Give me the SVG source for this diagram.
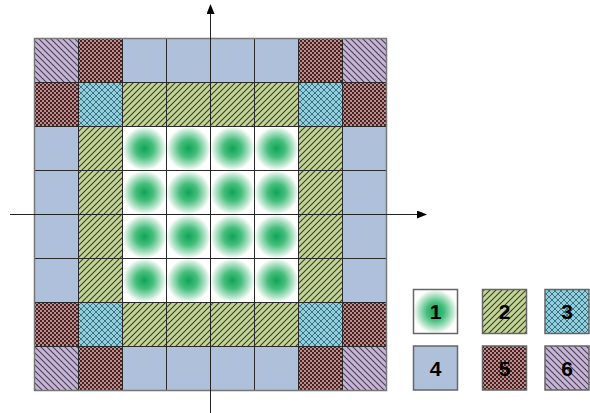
<svg xmlns="http://www.w3.org/2000/svg" width="590" height="413" viewBox="0 0 590 413">
<style>
.c{stroke:#2a2a2a;stroke-width:1}
.lg{stroke:#666;stroke-width:1.5}
.t{font-family:"Liberation Sans",Arial,sans-serif;font-weight:bold;font-size:21px;fill:#000;text-anchor:middle}
.ax{stroke:#222;stroke-width:1;fill:none}
</style>
<defs>
<radialGradient id="g1" cx="0.5" cy="0.5" r="0.5">
<stop offset="0" stop-color="#0fa458"/>
<stop offset="0.4" stop-color="#45be7c"/>
<stop offset="0.8" stop-color="#bfe7d0"/>
<stop offset="1" stop-color="#ffffff"/>
</radialGradient>
<pattern id="p2" patternUnits="userSpaceOnUse" width="6" height="6">
<rect width="6" height="6" fill="#c3d596"/>
<path d="M0,6L6,0M-1,1L1,-1M5,7L7,5" stroke="#3a3a2a" stroke-width="1.1"/>
</pattern>
<pattern id="p6" patternUnits="userSpaceOnUse" width="6" height="6">
<rect width="6" height="6" fill="#c6b5d6"/>
<path d="M0,0L6,6M-1,5L1,7M5,-1L7,1" stroke="#4a3f55" stroke-width="1.1"/>
</pattern>
<pattern id="p3" patternUnits="userSpaceOnUse" width="6" height="6">
<rect width="6" height="6" fill="#8fd0e0"/>
<path d="M0,0L6,6M6,0L0,6" stroke="#3a6470" stroke-width="0.9"/>
</pattern>
<pattern id="p5" patternUnits="userSpaceOnUse" width="4" height="4">
<rect width="4" height="4" fill="#c48a8a"/>
<rect x="0" y="0" width="2" height="2" fill="#3e2626"/>
<rect x="2" y="2" width="2" height="2" fill="#3e2626"/>
</pattern>
<marker id="ar" markerWidth="10" markerHeight="8" refX="9" refY="4" orient="auto" markerUnits="userSpaceOnUse">
<path d="M0,0L10,4L0,8Z" fill="#000"/>
</marker>
</defs>
<g id="grid">
<rect class="c" x="34.5" y="38.5" width="44" height="44" fill="url(#p6)"/>
<rect class="c" x="78.5" y="38.5" width="44" height="44" fill="url(#p5)"/>
<rect class="c" x="122.5" y="38.5" width="44" height="44" fill="#afc1da"/>
<rect class="c" x="166.5" y="38.5" width="44" height="44" fill="#afc1da"/>
<rect class="c" x="210.5" y="38.5" width="44" height="44" fill="#afc1da"/>
<rect class="c" x="254.5" y="38.5" width="44" height="44" fill="#afc1da"/>
<rect class="c" x="298.5" y="38.5" width="44" height="44" fill="url(#p5)"/>
<rect class="c" x="342.5" y="38.5" width="44" height="44" fill="url(#p6)"/>
<rect class="c" x="34.5" y="82.5" width="44" height="44" fill="url(#p5)"/>
<rect class="c" x="78.5" y="82.5" width="44" height="44" fill="url(#p3)"/>
<rect class="c" x="122.5" y="82.5" width="44" height="44" fill="url(#p2)"/>
<rect class="c" x="166.5" y="82.5" width="44" height="44" fill="url(#p2)"/>
<rect class="c" x="210.5" y="82.5" width="44" height="44" fill="url(#p2)"/>
<rect class="c" x="254.5" y="82.5" width="44" height="44" fill="url(#p2)"/>
<rect class="c" x="298.5" y="82.5" width="44" height="44" fill="url(#p3)"/>
<rect class="c" x="342.5" y="82.5" width="44" height="44" fill="url(#p5)"/>
<rect class="c" x="34.5" y="126.5" width="44" height="44" fill="#afc1da"/>
<rect class="c" x="34.5" y="170.5" width="44" height="44" fill="#afc1da"/>
<rect class="c" x="34.5" y="214.5" width="44" height="44" fill="#afc1da"/>
<rect class="c" x="34.5" y="258.5" width="44" height="44" fill="#afc1da"/>
<rect class="c" x="78.5" y="126.5" width="44" height="44" fill="url(#p2)"/>
<rect class="c" x="78.5" y="170.5" width="44" height="44" fill="url(#p2)"/>
<rect class="c" x="78.5" y="214.5" width="44" height="44" fill="url(#p2)"/>
<rect class="c" x="78.5" y="258.5" width="44" height="44" fill="url(#p2)"/>
<rect class="c" x="298.5" y="126.5" width="44" height="44" fill="url(#p2)"/>
<rect class="c" x="298.5" y="170.5" width="44" height="44" fill="url(#p2)"/>
<rect class="c" x="298.5" y="214.5" width="44" height="44" fill="url(#p2)"/>
<rect class="c" x="298.5" y="258.5" width="44" height="44" fill="url(#p2)"/>
<rect class="c" x="342.5" y="126.5" width="44" height="44" fill="#afc1da"/>
<rect class="c" x="342.5" y="170.5" width="44" height="44" fill="#afc1da"/>
<rect class="c" x="342.5" y="214.5" width="44" height="44" fill="#afc1da"/>
<rect class="c" x="342.5" y="258.5" width="44" height="44" fill="#afc1da"/>
<rect class="c" x="122.5" y="126.5" width="44" height="44" fill="url(#g1)"/>
<rect class="c" x="166.5" y="126.5" width="44" height="44" fill="url(#g1)"/>
<rect class="c" x="210.5" y="126.5" width="44" height="44" fill="url(#g1)"/>
<rect class="c" x="254.5" y="126.5" width="44" height="44" fill="url(#g1)"/>
<rect class="c" x="122.5" y="170.5" width="44" height="44" fill="url(#g1)"/>
<rect class="c" x="166.5" y="170.5" width="44" height="44" fill="url(#g1)"/>
<rect class="c" x="210.5" y="170.5" width="44" height="44" fill="url(#g1)"/>
<rect class="c" x="254.5" y="170.5" width="44" height="44" fill="url(#g1)"/>
<rect class="c" x="122.5" y="214.5" width="44" height="44" fill="url(#g1)"/>
<rect class="c" x="166.5" y="214.5" width="44" height="44" fill="url(#g1)"/>
<rect class="c" x="210.5" y="214.5" width="44" height="44" fill="url(#g1)"/>
<rect class="c" x="254.5" y="214.5" width="44" height="44" fill="url(#g1)"/>
<rect class="c" x="122.5" y="258.5" width="44" height="44" fill="url(#g1)"/>
<rect class="c" x="166.5" y="258.5" width="44" height="44" fill="url(#g1)"/>
<rect class="c" x="210.5" y="258.5" width="44" height="44" fill="url(#g1)"/>
<rect class="c" x="254.5" y="258.5" width="44" height="44" fill="url(#g1)"/>
<rect class="c" x="34.5" y="302.5" width="44" height="44" fill="url(#p5)"/>
<rect class="c" x="78.5" y="302.5" width="44" height="44" fill="url(#p3)"/>
<rect class="c" x="122.5" y="302.5" width="44" height="44" fill="url(#p2)"/>
<rect class="c" x="166.5" y="302.5" width="44" height="44" fill="url(#p2)"/>
<rect class="c" x="210.5" y="302.5" width="44" height="44" fill="url(#p2)"/>
<rect class="c" x="254.5" y="302.5" width="44" height="44" fill="url(#p2)"/>
<rect class="c" x="298.5" y="302.5" width="44" height="44" fill="url(#p3)"/>
<rect class="c" x="342.5" y="302.5" width="44" height="44" fill="url(#p5)"/>
<rect class="c" x="34.5" y="346.5" width="44" height="44" fill="url(#p6)"/>
<rect class="c" x="78.5" y="346.5" width="44" height="44" fill="url(#p5)"/>
<rect class="c" x="122.5" y="346.5" width="44" height="44" fill="#afc1da"/>
<rect class="c" x="166.5" y="346.5" width="44" height="44" fill="#afc1da"/>
<rect class="c" x="210.5" y="346.5" width="44" height="44" fill="#afc1da"/>
<rect class="c" x="254.5" y="346.5" width="44" height="44" fill="#afc1da"/>
<rect class="c" x="298.5" y="346.5" width="44" height="44" fill="url(#p5)"/>
<rect class="c" x="342.5" y="346.5" width="44" height="44" fill="url(#p6)"/>
<rect x="34.5" y="38.5" width="352" height="352" fill="none" stroke="#777" stroke-width="1.5"/>
</g>
<g id="axes">
<line class="ax" x1="210.5" y1="413" x2="210.5" y2="5" marker-end="url(#ar)"/>
<line class="ax" x1="10" y1="214.5" x2="426" y2="214.5" marker-end="url(#ar)"/>
</g>
<g id="legend1"><rect class="lg" x="413.5" y="289.5" width="44" height="44" fill="url(#g1)"/><text class="t" x="435.5" y="319">1</text></g>
<g id="legend2"><rect class="lg" x="482.5" y="289.5" width="44" height="44" fill="url(#p2)"/><text class="t" x="504.5" y="319">2</text></g>
<g id="legend3"><rect class="lg" x="545" y="289.5" width="44" height="44" fill="url(#p3)"/><text class="t" x="567" y="319">3</text></g>
<g id="legend4"><rect class="lg" x="413.5" y="346" width="44" height="44" fill="#afc1da"/><text class="t" x="435.5" y="375.5">4</text></g>
<g id="legend5"><rect class="lg" x="482.5" y="346" width="44" height="44" fill="url(#p5)"/><text class="t" x="504.5" y="375.5">5</text></g>
<g id="legend6"><rect class="lg" x="545" y="346" width="44" height="44" fill="url(#p6)"/><text class="t" x="567" y="375.5">6</text></g>
</svg>
